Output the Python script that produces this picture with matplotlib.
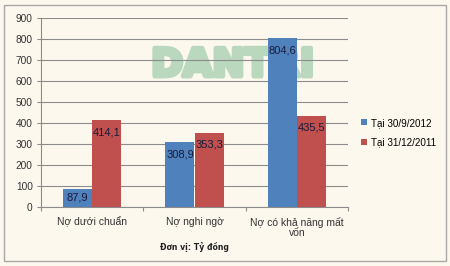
import matplotlib
matplotlib.use("Agg")
import matplotlib.pyplot as plt
from matplotlib.patches import Rectangle, Patch
import matplotlib.patheffects as pe
import numpy as np

categories = ["Nợ dưới chuẩn", "Nợ nghi ngờ", "Nợ có khả năng mất\nvốn"]
series_names = ["Tại 30/9/2012", "Tại 31/12/2011"]
values_2012 = [87.9, 308.9, 804.6]
values_2011 = [414.1, 353.3, 435.5]
yticks = [0, 100, 200, 300, 400, 500, 600, 700, 800, 900]
unit_note = "Đơn vị: Tỷ đồng"

colors = ["#4f81bd", "#c0504d"]
bg = "#fdf8ee"
wm_color = "#b9d8be"

plt.rcParams['font.family'] = ['Liberation Sans', 'DejaVu Sans']

fig = plt.figure(figsize=(4.5, 2.66), dpi=100)
fig.patch.set_facecolor(bg)
ax = fig.add_axes([41/450, 1-207/266, (348-41)/450, (207-18)/266])
ax.set_facecolor("none")

# border
fig.patches.append(Rectangle((4/450, 1-261/266), (446-4)/450, (261-4.5)/266,
                             transform=fig.transFigure, fill=False,
                             edgecolor="#a8a8a8", linewidth=1.0))

# watermark
ax.text(0.625, 0.767, "DANTRI", transform=ax.transAxes, ha="center", va="center_baseline",
        fontsize=27.5, fontweight="bold", color=wm_color, family="DejaVu Sans",
        zorder=0.5, path_effects=[pe.withStroke(linewidth=3.5, foreground=wm_color)])

x = np.arange(len(categories))
w = 0.284
series = [values_2012, values_2011]
for i, vals in enumerate(series):
    xs = x + (i - 0.5) * w
    ax.bar(xs, vals, width=w, color=colors[i], zorder=2, label=series_names[i])
    for xi, v in zip(xs, vals):
        ly = max(v - 57, v / 2)
        ax.text(xi, ly, f"{v:.1f}".replace(".", ","), ha="center", va="center",
                fontsize=8.0, color="#1a1a3a", zorder=3)

ax.set_xlim(-0.5, 2.5)
ax.set_ylim(0, 900)
ax.set_yticks(yticks)
ax.set_yticklabels([str(t) for t in yticks], fontsize=7.3, color="#333333")
ax.yaxis.grid(True, color="#8c8c8c", linewidth=0.8, zorder=1)
ax.set_axisbelow(True)

ax.set_xticks([-0.5, 0.5, 1.5, 2.5])
ax.set_xticklabels([])
ax.set_xticks(x, minor=True)
ax.set_xticklabels(categories, minor=True, fontsize=7.5, color="#333333", linespacing=1.0)
ax.tick_params(axis="x", which="minor", length=0, pad=7)
ax.tick_params(axis="x", which="major", length=3, color="#8c8c8c")
ax.tick_params(axis="y", length=3, color="#8c8c8c", pad=3)

for s in ["top", "right"]:
    ax.spines[s].set_visible(False)
ax.spines["left"].set_color("#8c8c8c")
ax.spines["bottom"].set_color("#8c8c8c")

handles = [Patch(facecolor=c) for c in colors]
fig.legend(handles, series_names, loc="center left", bbox_to_anchor=(356/450, 1-132.5/266),
           frameon=False, fontsize=7.1, handlelength=0.6, handleheight=0.6,
           handletextpad=0.4, labelspacing=0.95, borderpad=0)

fig.text(194/450, 1-247/266, unit_note, ha="center", va="center",
         fontsize=5.6, fontweight="bold", family="DejaVu Sans", color="#222222")

fig.savefig("out.png", dpi=100, facecolor=bg)
